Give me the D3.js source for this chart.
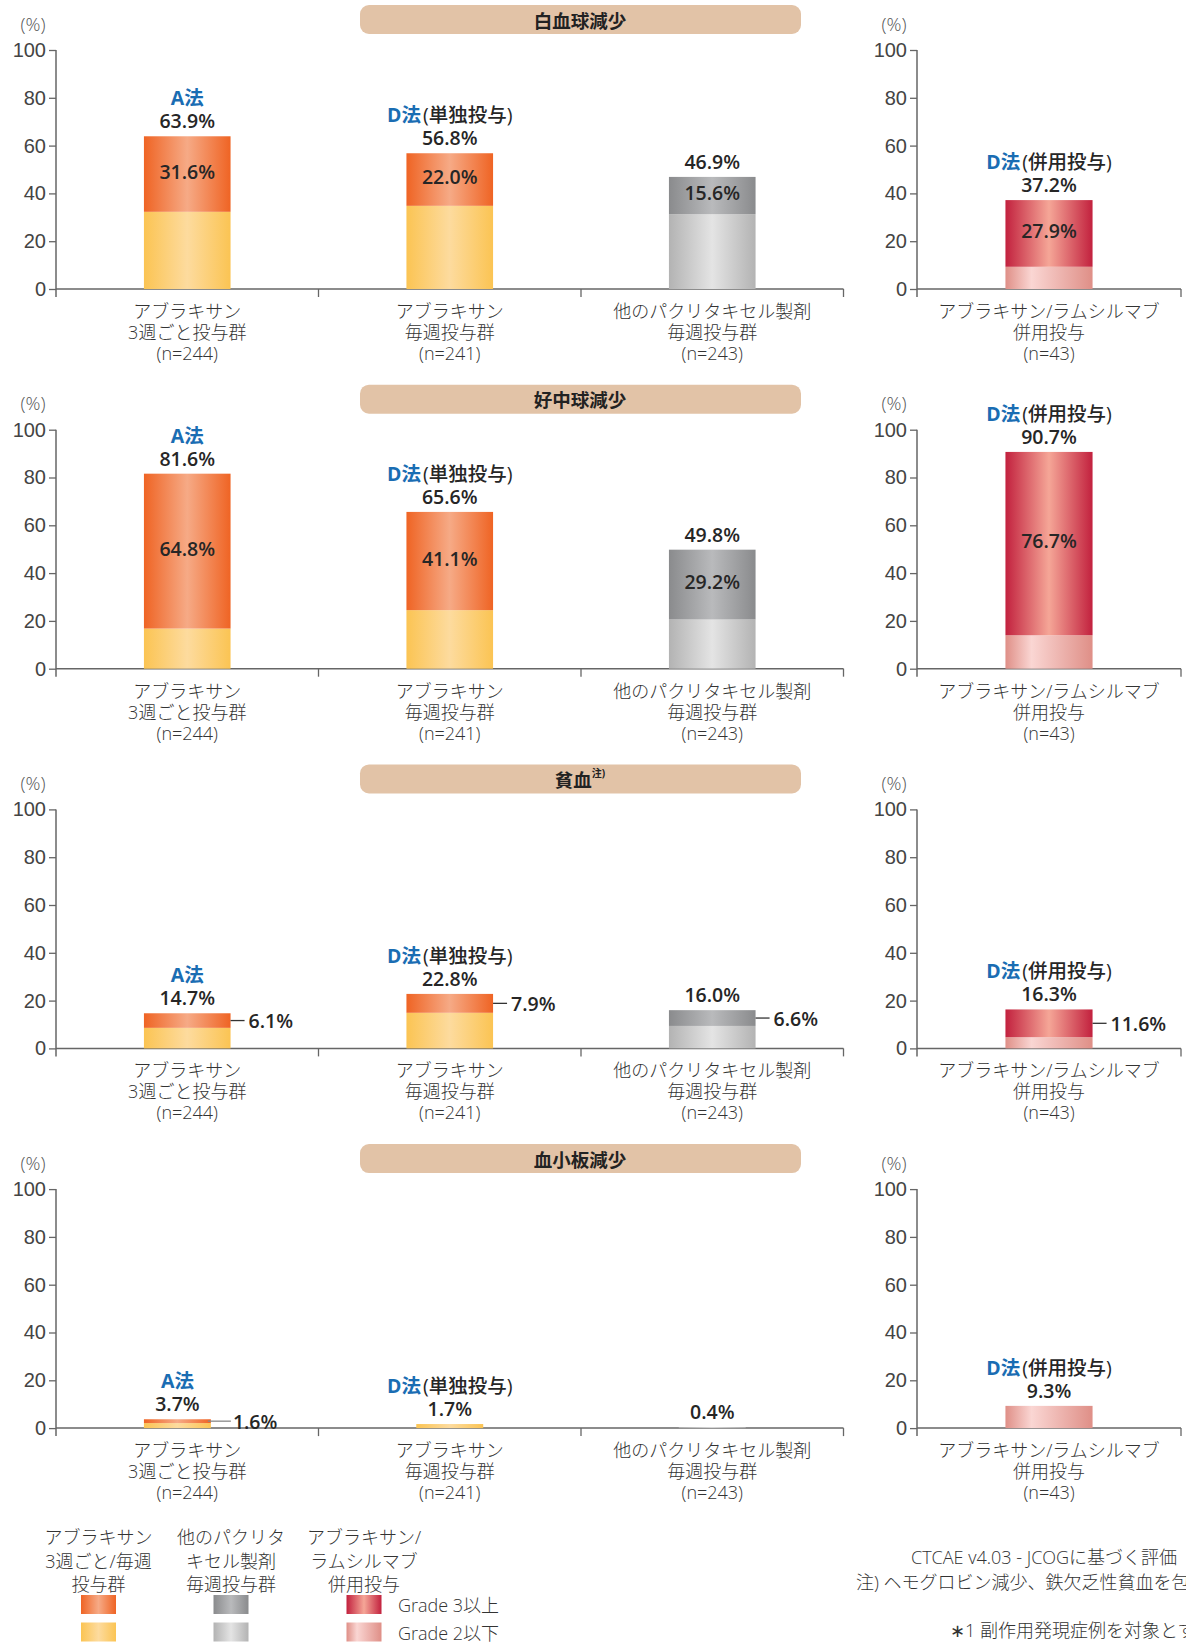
<!DOCTYPE html>
<html>
<head>
<meta charset="utf-8">
<script src="https://cdn.jsdelivr.net/npm/d3@7"></script>
<style>
  body { margin: 0; background: #fff; }
  svg { display: block; font-family: "Open Sans", "Noto Sans CJK JP", sans-serif; }
  .tick text { font-size: 20px; fill: #444; font-weight: 300; }
  .cat { font-size: 18px; fill: #333; font-weight: 300; }
  .val { font-size: 19.5px; fill: #262626; font-weight: 600; }
</style>
</head>
<body>
<div id="chart-area"></div>
<script>
// data
const titles = ['白血球減少', '好中球減少', '貧血', '血小板減少']
const titleNotes = ['', '', '注)', '']
const totals = [
  [63.9, 56.8, 46.9, 37.2],
  [81.6, 65.6, 49.8, 90.7],
  [14.7, 22.8, 16.0, 16.3],
  [3.7, 1.7, 0.4, 9.3]
]
const grade3 = [
  [31.6, 22.0, 15.6, 27.9],
  [64.8, 41.1, 29.2, 76.7],
  [6.1, 7.9, 6.6, 11.6],
  [1.6, 0, 0, 0]
]
const groupTags = ['A法', 'D法', '', 'D法']
const groupNotes = ['', '(単独投与)', '', '(併用投与)']
const catLabels = [
  ['アブラキサン', '3週ごと投与群', '(n=244)'],
  ['アブラキサン', '毎週投与群', '(n=241)'],
  ['他のパクリタキセル製剤', '毎週投与群', '(n=243)'],
  ['アブラキサン/ラムシルマブ', '併用投与', '(n=43)']
]
const yTicks = [0, 20, 40, 60, 80, 100]
const legendGroups = [
  ['アブラキサン', '3週ごと/毎週', '投与群'],
  ['他のパクリタ', 'キセル製剤', '毎週投与群'],
  ['アブラキサン/', 'ラムシルマブ', '併用投与']
]
const legendGrades = ['Grade 3以上', 'Grade 2以下']
const footnotes = [
  'CTCAE v4.03 - JCOGに基づく評価',
  '注) ヘモグロビン減少、鉄欠乏性貧血を包括',
  '∗1 副作用発現症例を対象とする'
]

const width = 1186, height = 1642
const plotH = 239, panelStep = 379.7, firstTop = 50
const leftRange = [56, 843.5], rightRange = [917, 1181]

// colour sets: [grade3 edge, grade3 mid, grade<=2 edge, grade<=2 mid]
const palettes = [
  ['#ef6424', '#f6aa86', '#fbc453', '#fddb9e'],
  ['#ef6424', '#f6aa86', '#fbc453', '#fddb9e'],
  ['#8a8b8d', '#b9babc', '#b3b3b3', '#e4e4e4'],
  ['#c2213e', '#f5a697', '#df8f87', '#fad6d3']
]

let svg = d3.select('#chart-area')
  .append('svg')
  .attr('width', width)
  .attr('height', height)

let defs = svg.append('defs')
palettes.forEach((p, i) => {
  ;[[p[0], p[1]], [p[2], p[3]]].forEach((c, j) => {
    let grad = defs.append('linearGradient')
      .attr('id', 'grad' + i + '_' + j)
      .attr('x1', 0).attr('x2', 1).attr('y1', 0).attr('y2', 0)
    grad.append('stop').attr('offset', 0).attr('stop-color', c[0])
    grad.append('stop').attr('offset', i == 3 && j == 1 ? 0.3 : 0.5).attr('stop-color', c[1])
    grad.append('stop').attr('offset', 1).attr('stop-color', c[0])
  })
})

let xLeft = d3.scaleBand().domain([0, 1, 2]).range(leftRange)
let xRight = d3.scaleBand().domain([3]).range(rightRange)
const barFrac = [0.33, 0.33, 0.33, 0.255]

titles.forEach((title, p) => {
  let top = firstTop + p * panelStep
  let y = d3.scaleLinear().domain([0, 100]).range([top + plotH, top])
  let g = svg.append('g')

  // title pill
  g.append('rect')
    .attr('x', 360).attr('y', top - 45)
    .attr('width', 441).attr('height', 29)
    .attr('rx', 9)
    .attr('fill', '#e2c3a7')
  let tt = g.append('text')
    .attr('x', 580).attr('y', top - 30)
    .attr('text-anchor', 'middle')
    .attr('dominant-baseline', 'central')
    .attr('font-size', 18.5).attr('font-weight', 700).attr('fill', '#222')
    .text(title)
  if (titleNotes[p]) {
    tt.append('tspan').attr('font-size', 10).attr('dy', -6).text(titleNotes[p])
  }

  ;[[xLeft, [0, 1, 2]], [xRight, [3]]].forEach(([x, idx]) => {
    let r = x.range()

    // y axis
    let yAxis = g.append('g')
      .attr('transform', 'translate(' + r[0] + ',0)')
      .call(d3.axisLeft(y).tickValues(yTicks).tickSize(7).tickSizeOuter(0).tickPadding(3))
    yAxis.select('.domain').remove()
    yAxis.selectAll('line').attr('stroke', '#666').attr('stroke-width', 1.3)
    g.append('line')
      .attr('x1', r[0]).attr('x2', r[0])
      .attr('y1', y(100)).attr('y2', y(0) + 8)
      .attr('stroke', '#666').attr('stroke-width', 1.5)

    g.append('text')
      .attr('x', r[0] - 23).attr('y', top - 27)
      .attr('text-anchor', 'middle')
      .attr('dominant-baseline', 'central')
      .attr('font-size', 18.5).attr('font-weight', 300).attr('fill', '#555')
      .text('(%)')

    // x axis with band boundary ticks
    g.append('line')
      .attr('x1', r[0]).attr('x2', r[1])
      .attr('y1', y(0)).attr('y2', y(0))
      .attr('stroke', '#666').attr('stroke-width', 1.5)
    idx.map(d => x(d) + x.bandwidth()).forEach(bx => {
      g.append('line')
        .attr('x1', bx).attr('x2', bx)
        .attr('y1', y(0)).attr('y2', y(0) + 8)
        .attr('stroke', '#666').attr('stroke-width', 1.3)
    })

    idx.forEach(i => {
      let bw = (i == 3 ? 0.33 : barFrac[p]) * x.bandwidth()
      let full = 0.33 * x.bandwidth()
      // narrower bars keep the same left edge as the wide ones in the first group
      let cx = x(i) + x.bandwidth() / 2 - (i == 0 ? (full - bw) / 2 : 0)
      let tot = totals[p][i], g3 = grade3[p][i], g2 = tot - g3

      // grade <=2 then grade 3 stacked on top
      if (g2 > 0) {
        g.append('rect')
          .attr('x', cx - bw / 2).attr('width', bw)
          .attr('y', y(g2)).attr('height', y(0) - y(g2))
          .attr('fill', 'url(#grad' + i + '_1)')
      }
      if (g3 > 0) {
        g.append('rect')
          .attr('x', cx - bw / 2).attr('width', bw)
          .attr('y', y(tot)).attr('height', y(g2) - y(tot))
          .attr('fill', 'url(#grad' + i + '_0)')
        let my = (y(tot) + y(g2)) / 2
        if (g3 >= 14) {
          g.append('text').attr('class', 'val')
            .attr('x', cx).attr('y', my - 3)
            .attr('text-anchor', 'middle')
            .attr('dominant-baseline', 'central')
            .text(g3.toFixed(1) + '%')
        } else {
          let thin = bw < full
          g.append('line')
            .attr('x1', cx + bw / 2 - (thin ? 3 : 0)).attr('x2', cx + bw / 2 + (thin ? 20 : 14))
            .attr('y1', my).attr('y2', my)
            .attr('stroke', thin ? '#888' : '#333').attr('stroke-width', 1.3)
          g.append('text').attr('class', 'val')
            .attr('x', cx + bw / 2 + (thin ? 22 : 18)).attr('y', my)
            .attr('dominant-baseline', 'central')
            .text(g3.toFixed(1) + '%')
        }
      }

      // total and group tag
      g.append('text').attr('class', 'val')
        .attr('x', cx).attr('y', y(tot) - 8)
        .attr('text-anchor', 'middle')
        .text(tot.toFixed(1) + '%')
      if (groupTags[i]) {
        let tag = g.append('text').attr('class', 'val')
          .attr('x', cx).attr('y', y(tot) - 31)
          .attr('text-anchor', 'middle')
        tag.append('tspan').attr('fill', '#1a6db3').attr('font-weight', 700).text(groupTags[i])
        if (groupNotes[i]) tag.append('tspan').attr('dx', 2).attr('font-weight', 500).text(groupNotes[i])
      }

      // category label
      catLabels[i].forEach((line, k) => {
        g.append('text').attr('class', 'cat')
          .attr('x', x(i) + x.bandwidth() / 2).attr('y', y(0) + 22 + k * 21)
          .attr('text-anchor', 'middle')
          .attr('dominant-baseline', 'central')
          .text(line)
      })
    })
  })
})

// legend
const legendX = [98.5, 231, 364]
const legendPal = [0, 2, 3]
legendGroups.forEach((lines, j) => {
  lines.forEach((line, k) => {
    svg.append('text').attr('class', 'cat')
      .attr('x', legendX[j]).attr('y', 1537 + k * 23.5)
      .attr('text-anchor', 'middle')
      .attr('dominant-baseline', 'central')
      .attr('font-size', 18.5)
      .attr('fill', '#555')
      .text(line)
  })
  legendGrades.forEach((gr, k) => {
    svg.append('rect')
      .attr('x', legendX[j] - 17.5).attr('y', 1595 + k * 27.5)
      .attr('width', 35).attr('height', 19)
      .attr('fill', 'url(#grad' + legendPal[j] + '_' + k + ')')
  })
})
legendGrades.forEach((gr, k) => {
  svg.append('text').attr('class', 'cat')
    .attr('x', 398).attr('y', 1605 + k * 27.5)
    .attr('dominant-baseline', 'central')
    .attr('font-size', 20)
    .attr('fill', '#555')
    .text(gr)
})

// footnotes (run off the right edge as in the source)
const footX = [911, 856, 950], footY = [1557, 1582, 1630]
footnotes.forEach((f, k) => {
  svg.append('text').attr('class', 'cat')
    .attr('x', footX[k]).attr('y', footY[k])
    .attr('dominant-baseline', 'central')
    .attr('font-size', 17.5)
    .attr('fill', '#444')
    .text(f)
})
</script>
</body>
</html>
